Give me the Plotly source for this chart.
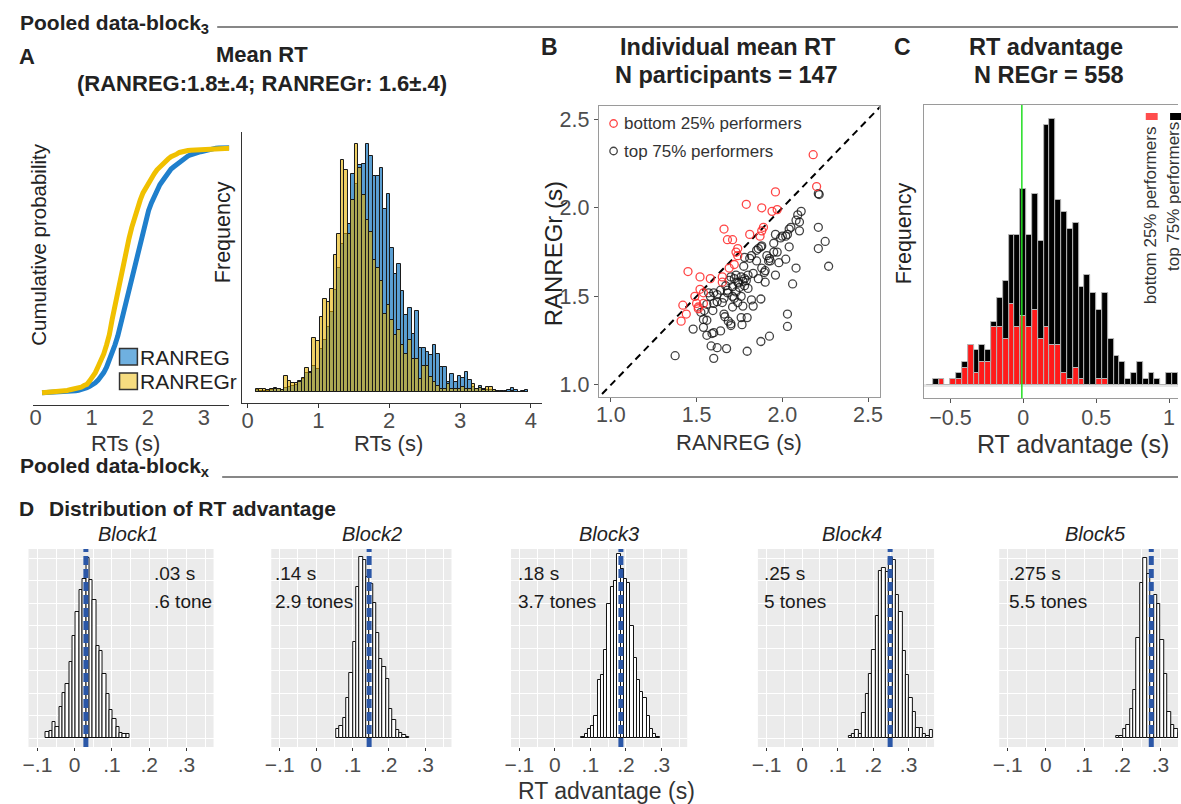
import numpy as np
import plotly.graph_objects as go

W, H = 1181, 804
FONT = "Liberation Sans, Arial, Helvetica, sans-serif"
TICK_GREY = "#4d4d4d"
TXT = "#222222"

# ---------------- data ----------------
# Panel A: pooled RT histograms (bin width 0.05 s)
RT_BIN_LEFT = 0.115
RT_BIN_WIDTH = 0.05
ranreg_counts = [5, 3, 3, 3, 5, 12, 7, 5, 10, 15, 17, 20, 32, 37, 55, 60,
                 78, 68, 128, 153, 193, 238, 303, 368, 440, 470, 500, 650, 620, 678, 680, 740,
                 703, 643, 643, 668, 545, 590, 430, 353, 380, 300, 228, 251, 173, 240,
                 131, 131, 118, 108, 138, 113, 73, 73, 28, 53, 30, 48, 40, 58, 35, 13,
                 8, 16, 8, 6, 6, 5, 3, 3, 2, 4, 11, 5, 0, 3, 4]
ranregr_counts = [7, 9, 7, 5, 8, 9, 7, 5, 47, 33, 25, 25, 30, 40, 70, 55,
                  161, 151, 223, 278, 268, 308, 408, 471, 693, 663, 470, 573, 740, 668, 588, 513,
                  478, 393, 370, 330, 233, 260, 213, 168, 183, 138, 113, 153, 98, 98,
                  38, 78, 78, 43, 28, 18, 8, 8, 23, 8, 8, 8, 13, 8, 8, 23,
                  8, 10, 6, 15, 13, 5, 0, 0, 0, 0, 2, 0, 0, 0, 0]

# Panel B: individual mean RTs (RANREG, RANREGr)
bottom_x = [2.18, 2.20, 1.96, 1.79, 1.88, 1.94, 1.97, 1.66, 1.89, 1.81, 1.87, 1.68, 1.71, 1.74,
            1.74, 1.72, 1.69, 1.45, 1.52, 1.58, 1.65, 1.65, 1.52, 1.54, 1.49, 1.54, 1.42, 1.50,
            1.51, 1.51, 1.44, 1.41, 1.88, 1.73]
bottom_y = [2.30, 2.12, 2.09, 2.02, 2.00, 1.98, 1.99, 1.88, 1.89, 1.85, 1.84, 1.82, 1.82, 1.77,
            1.73, 1.68, 1.66, 1.64, 1.61, 1.60, 1.61, 1.58, 1.54, 1.52, 1.50, 1.46, 1.45, 1.46,
            1.44, 1.43, 1.40, 1.36, 1.87, 1.75]
top_x = [2.21, 2.215, 2.11, 2.09, 2.08, 2.10, 2.05, 2.04, 2.03, 2.02, 2.10, 2.21, 2.25, 2.21,
         2.27, 1.96, 1.95, 1.97, 1.95, 2.04, 2.02, 1.98, 2.08, 1.875, 1.88, 1.85, 1.82, 1.78,
         1.81, 1.91, 1.925, 1.775, 1.85, 1.90, 1.895, 1.90, 1.96, 2.06, 1.73, 1.76, 1.78, 1.79,
         1.77, 1.80, 1.78, 1.745, 1.70, 1.71, 1.73, 1.68, 1.64, 1.60, 1.62, 1.57, 1.71, 1.72,
         1.76, 1.77, 1.82, 1.83, 1.875, 1.74, 1.71, 1.65, 1.60, 1.56, 1.545, 1.525, 1.595, 1.66,
         1.665, 1.685, 1.70, 1.70, 1.76, 1.795, 1.765, 1.56, 1.54, 1.48, 1.54, 1.56, 1.59, 1.60,
         1.64, 1.585, 1.62, 1.675, 1.60, 1.375, 1.795, 1.875, 1.925, 2.03, 2.03, 1.92, 1.99, 2.00,
         1.86, 1.69, 1.67, 1.75, 1.83, 1.88, 1.93, 1.62, 1.58, 1.66, 1.72, 1.74, 1.68, 1.80, 1.86]
top_y = [2.08, 2.075, 1.98, 1.96, 1.93, 1.92, 1.89, 1.88, 1.85, 1.84, 1.87, 1.89, 1.81, 1.77,
         1.67, 1.85, 1.80, 1.75, 1.75, 1.78, 1.71, 1.69, 1.66, 1.78, 1.785, 1.76, 1.73, 1.72,
         1.715, 1.73, 1.715, 1.67, 1.70, 1.645, 1.635, 1.58, 1.62, 1.57, 1.62, 1.61, 1.60, 1.59,
         1.585, 1.545, 1.56, 1.575, 1.61, 1.555, 1.525, 1.535, 1.535, 1.52, 1.51, 1.52, 1.50, 1.49,
         1.50, 1.445, 1.48, 1.445, 1.485, 1.465, 1.44, 1.465, 1.46, 1.455, 1.42, 1.41, 1.42, 1.40,
         1.385, 1.36, 1.345, 1.335, 1.38, 1.38, 1.34, 1.365, 1.37, 1.315, 1.325, 1.28, 1.29, 1.295,
         1.305, 1.22, 1.21, 1.205, 1.15, 1.165, 1.19, 1.245, 1.275, 1.40, 1.33, 1.70, 1.83, 1.84,
         1.77, 1.59, 1.56, 1.55, 1.63, 1.66, 1.70, 1.47, 1.50, 1.49, 1.60, 1.58, 1.52, 1.62, 1.60]

# Panel C: RT advantage histogram (bin width 0.04 s)
adv_bins = [-0.64, -0.60, -0.56, -0.52, -0.48, -0.44, -0.40, -0.36, -0.32, -0.28, -0.24,
            -0.20, -0.16, -0.12, -0.08, -0.04, 0.00, 0.04, 0.08, 0.12, 0.16, 0.20, 0.24,
            0.28, 0.32, 0.36, 0.40, 0.44, 0.48, 0.52, 0.56, 0.60, 0.64, 0.68, 0.72, 0.76,
            0.80, 0.84, 0.88, 0.92, 0.96, 1.00, 1.04]
adv_bottom25 = [0, 0, 1, 0, 1, 1, 3, 7, 2, 4, 4, 10, 10, 8, 14, 10, 12, 10, 13, 8, 10, 7, 7,
                2, 1, 3, 1, 0, 0, 1, 1, 0, 0, 0, 0, 0, 0, 0, 0, 0, 0, 0, 0]
adv_top75 = [0, 1, 0, 0, 0, 1, 1, 0, 4, 3, 2, 1, 5, 10, 12, 16, 22, 16, 20, 17, 35, 39, 25,
             28, 26, 25, 16, 19, 16, 12, 15, 8, 5, 4, 1, 2, 4, 1, 2, 1, 0, 2, 2]
ADV_BIN_WIDTH = 0.04
ZERO_LINE_X = -0.01

# Panel D: bootstrap distributions of RT advantage per block
block_names = ["Block1", "Block2", "Block3", "Block4", "Block5"]
block_bin_start = [-0.0775, 0.056, 0.0745, 0.131, 0.1836]
block_bin_width = [0.009, 0.0091, 0.0092, 0.0095, 0.009]
block_counts = [
    [14, 16, 36, 24, 68, 99, 121, 170, 227, 279, 329, 353, 400, 351, 307, 205, 194, 142, 98, 63,
     42, 24, 11, 9, 10],
    [19, 26, 45, 90, 145, 214, 336, 402, 395, 357, 342, 301, 233, 175, 158, 132, 64, 41, 17, 11,
     6, 2],
    [2, 8, 19, 26, 49, 128, 139, 195, 298, 335, 350, 408, 376, 353, 344, 248, 177, 128, 102, 88,
     49, 19, 8, 2],
    [4, 8, 18, 9, 56, 97, 142, 195, 272, 372, 377, 370, 400, 396, 317, 280, 193, 141, 89, 58, 22,
     22, 9, 4, 18],
    [5, 4, 20, 29, 65, 107, 223, 345, 400, 365, 306, 317, 297, 217, 142, 58, 28, 20, 12, 6, 3],
]
block_means = [0.03, 0.146, 0.186, 0.248, 0.276]
block_text1 = [".03 s", ".14 s", ".18 s", ".25 s", ".275 s"]
block_text2 = [".6 tone", "2.9 tones", "3.7 tones", "5 tones", "5.5 tones"]
d_tickvals = [-0.1, 0, 0.1, 0.2, 0.3]
d_ticktext = ["\u2212.1", "0", ".1", ".2", ".3"]


# ---------------- helpers ----------------
def xd(a, b):
    return [a / W, min(b / W, 1.0)]


def yd(top, bottom):
    return [1 - bottom / H, 1 - top / H]


def px(x):
    return x / W


def py(y):
    return 1 - y / H


annotations = []
shapes = []


def ann(text, x, y, size=20, color=TXT, xanchor="center", yanchor="middle", angle=0):
    annotations.append(dict(text=text, x=px(x), y=py(y), xref="paper", yref="paper",
                            xanchor=xanchor, yanchor=yanchor, showarrow=False, textangle=angle,
                            borderpad=0, borderwidth=0,
                            font=dict(family=FONT, size=size, color=color)))


fig = go.Figure()

# ---------------- Panel A: cumulative ----------------
rt_centers = RT_BIN_LEFT + RT_BIN_WIDTH * (np.arange(len(ranreg_counts)) + 0.5)
rt_edges = np.concatenate([[RT_BIN_LEFT], RT_BIN_LEFT + RT_BIN_WIDTH * (np.arange(len(ranreg_counts)) + 1)])
for counts, col in [(ranreg_counts, "#1f7fcc"), (ranregr_counts, "#f0c000")]:
    c = np.asarray(counts, float)
    cdf = np.concatenate([[0], np.cumsum(c)]) / c.sum()
    fig.add_trace(go.Scatter(x=rt_edges, y=cdf, mode="lines", line=dict(color=col, width=5),
                             xaxis="x", yaxis="y", hoverinfo="skip"))

# ---------------- Panel A: histogram ----------------
fig.add_trace(go.Bar(x=rt_centers, y=ranreg_counts, width=RT_BIN_WIDTH,
                     marker=dict(color="rgb(91,159,211)", line=dict(color="#1a1a1a", width=1)),
                     xaxis="x2", yaxis="y2"))
fig.add_trace(go.Bar(x=rt_centers, y=ranregr_counts, width=RT_BIN_WIDTH,
                     marker=dict(color="rgba(230,178,0,0.6)", line=dict(color="#1a1a1a", width=1)),
                     xaxis="x2", yaxis="y2"))

# ---------------- Panel B: scatter ----------------
B_XR = [0.929, 2.567]
B_YR = [0.93, 2.575]
fig.add_trace(go.Scatter(x=[0.9, 2.6], y=[0.9, 2.6], mode="lines",
                         line=dict(color="black", width=2, dash="7px,5px"),
                         xaxis="x3", yaxis="y3", hoverinfo="skip"))
fig.add_trace(go.Scatter(x=top_x, y=top_y, mode="markers",
                         marker=dict(symbol="circle-open", size=8, color="rgba(20,20,20,0.8)",
                                     line=dict(width=1.3)),
                         xaxis="x3", yaxis="y3"))
fig.add_trace(go.Scatter(x=bottom_x, y=bottom_y, mode="markers",
                         marker=dict(symbol="circle-open", size=8, color="rgba(255,50,50,0.9)",
                                     line=dict(width=1.3)),
                         xaxis="x3", yaxis="y3"))

# ---------------- Panel C: stacked histogram ----------------
fig.add_trace(go.Bar(x=adv_bins, y=adv_bottom25, width=ADV_BIN_WIDTH,
                     marker=dict(color="#ff1a1a", line=dict(color="#b5b5b5", width=1)),
                     xaxis="x4", yaxis="y4"))
fig.add_trace(go.Bar(x=adv_bins, y=adv_top75, base=adv_bottom25, width=ADV_BIN_WIDTH,
                     marker=dict(color="#000000", line=dict(color="#b5b5b5", width=1)),
                     xaxis="x4", yaxis="y4"))
shapes.append(dict(type="line", xref="x4", yref="y4 domain", x0=ZERO_LINE_X, x1=ZERO_LINE_X,
                   y0=0, y1=1, line=dict(color="#22dd22", width=1.5)))

# ---------------- Panel D ----------------
d_domains_x = [(21.7, 208.3), (266.5, 448.3), (508.3, 686), (757.3, 935), (1000.7, 1181)]
d_ranges = [[-0.124, 0.3727], [-0.1232, 0.3725], [-0.1234, 0.3726], [-0.1243, 0.3717],
            [-0.1223, 0.346]]
d_dom_y = yd(549, 747)
for i in range(5):
    ax = i + 5
    counts = block_counts[i]
    xs = [block_bin_start[i] + block_bin_width[i] * (j + 0.5) for j in range(len(counts))]
    fig.add_trace(go.Bar(x=xs, y=counts, width=block_bin_width[i],
                         marker=dict(color="white", line=dict(color="#111111", width=1)),
                         xaxis=f"x{ax}", yaxis=f"y{ax}"))
    shapes.append(dict(type="rect", xref=f"x{ax} domain", yref=f"y{ax} domain", x0=0, x1=1,
                       y0=0, y1=1, fillcolor="#ebebeb", line=dict(width=0), layer="below"))
    shapes.append(dict(type="line", xref=f"x{ax}", yref=f"y{ax} domain", x0=block_means[i],
                       x1=block_means[i], y0=0, y1=1,
                       line=dict(color="#2b57a7", width=5, dash="9px,4px")))

# ---------------- layout axes ----------------
layout = dict(
    width=W, height=H, margin=dict(l=0, r=0, t=0, b=0), autosize=False,
    paper_bgcolor="white", plot_bgcolor="white", showlegend=False,
    barmode="overlay", bargap=0,
    font=dict(family=FONT, color=TXT),
)
tick_font22 = dict(family=FONT, size=22, color=TICK_GREY)
tick_font_b = dict(family=FONT, size=21.5, color=TICK_GREY)

layout["xaxis"] = dict(domain=xd(26, 224), range=[-0.05, 3.45], anchor="y", showline=True,
                       linecolor="#333", linewidth=1, ticks="", tickvals=[0, 1, 2, 3],
                       tickfont=tick_font22, showgrid=False, zeroline=False,
                       ticklabelstandoff=-7)
layout["yaxis"] = dict(domain=yd(134.4, 405), range=[-0.05, 1.05], anchor="x", visible=False)

layout["xaxis2"] = dict(domain=xd(237, 540), range=[-0.08, 4.164], anchor="y2", showline=True,
                        linecolor="#333", linewidth=1.2, ticks="outside", ticklen=4,
                        tickcolor="#333", tickvals=[0, 1, 2, 3, 4], tickfont=tick_font22,
                        showgrid=False, zeroline=False, ticklabelstandoff=-7)
layout["yaxis2"] = dict(domain=yd(132, 403.3), range=[-35, 776], anchor="x2", showline=True,
                        linecolor="#333", linewidth=1.2, ticks="", showticklabels=False,
                        showgrid=False, zeroline=False)

layout["xaxis3"] = dict(domain=xd(596.7, 880), range=B_XR, anchor="y3", showline=True,
                        mirror=True, linecolor="#9a9a9a", linewidth=1, ticks="outside",
                        ticklen=4, tickcolor="#555", tickvals=[1, 1.5, 2, 2.5],
                        ticktext=["1.0", "1.5", "2.0", "2.5"], tickfont=tick_font_b,
                        showgrid=False, zeroline=False, ticklabelstandoff=-6)
layout["yaxis3"] = dict(domain=yd(106, 397.3), range=B_YR, anchor="x3", showline=True,
                        mirror=True, linecolor="#9a9a9a", linewidth=1, ticks="outside",
                        ticklen=4, tickcolor="#555", tickvals=[1, 1.5, 2, 2.5],
                        ticktext=["1.0", "1.5", "2.0", "2.5"], tickfont=tick_font_b,
                        showgrid=False, zeroline=False)

layout["xaxis4"] = dict(domain=xd(925, 1181), range=[-0.680, 1.061], anchor="y4", showline=True,
                        mirror=True, linecolor="#9a9a9a", linewidth=1, ticks="outside",
                        ticklen=4, tickcolor="#555", tickvals=[-0.5, 0, 0.5, 1],
                        ticktext=["\u22120.5", "0", "0.5", "1"], tickfont=tick_font_b,
                        showgrid=False, zeroline=False, ticklabelstandoff=-4)
layout["yaxis4"] = dict(domain=yd(105, 398.3), range=[-2.3, 48.5], anchor="x4", showline=True,
                        linecolor="#9a9a9a", linewidth=1, ticks="", showticklabels=False,
                        showgrid=False, zeroline=True, zerolinecolor="#e6e6e6",
                        zerolinewidth=3)

for i in range(5):
    ax = i + 5
    a, b = d_domains_x[i]
    layout[f"xaxis{ax}"] = dict(domain=xd(a, b), range=d_ranges[i], anchor=f"y{ax}",
                                showline=False, ticks="outside", ticklen=3, tickcolor="#333",
                                tickvals=d_tickvals, ticktext=d_ticktext,
                                tickfont=dict(family=FONT, size=21, color=TICK_GREY),
                                showgrid=True, gridcolor="white", gridwidth=1.2, zeroline=False,
                                ticklabelstandoff=-4,
                                minor=dict(tickvals=[-0.05, 0.05, 0.15, 0.25, 0.35],
                                           showgrid=True, gridcolor="white", gridwidth=0.6))
    layout[f"yaxis{ax}"] = dict(domain=d_dom_y, range=[-20, 420], anchor=f"x{ax}",
                                showline=False, ticks="", showticklabels=False,
                                tickvals=[0, 100, 200, 300, 400],
                                showgrid=True, gridcolor="white", gridwidth=1.2, zeroline=False,
                                minor=dict(tickvals=[50, 150, 250, 350], showgrid=True,
                                           gridcolor="white", gridwidth=0.6))

# ---------------- texts ----------------
ann("<b>Pooled data-block<sub>3</sub></b>", 13, 24, size=21, xanchor="left")
shapes.append(dict(type="line", xref="paper", yref="paper", x0=px(212), x1=1, y0=py(27),
                   y1=py(27), line=dict(color="#111", width=1.2)))
ann("<b>A</b>", 20.5, 56, size=22)
ann("<b>Mean RT</b>", 257, 55, size=22)
ann("<b>(RANREG:1.8\u00b1.4; RANREGr: 1.6\u00b1.4)</b>", 257, 83, size=22)
ann("<b>B</b>", 547, 47, size=23)
ann("<b>Individual mean RT</b>", 727, 47, size=23.5)
ann("<b>N participants = 147</b>", 726, 75, size=23.5)
ann("<b>C</b>", 903, 47, size=23)
ann("<b>RT advantage</b>", 1048, 47, size=23.5)
ann("<b>N REGr = 558</b>", 1051, 75, size=23.5)

ann("Cumulative probability", 32, 245, size=20.5, angle=-90, color="#222")
ann("RTs (s)", 120, 443, size=22, color="#333")
ann("Frequency", 218, 232, size=21.5, angle=-90, color="#222")
ann("RTs (s)", 385, 443, size=22, color="#333")
ann("RANREGr (s)", 551, 254, size=24, angle=-90, color="#222")
ann("RANREG (s)", 738, 442, size=22, color="#333")
ann("Frequency", 905, 233, size=21.5, angle=-90, color="#222")
ann("RT advantage (s)", 1075, 444, size=25, color="#333")

# legend panel A
shapes.append(dict(type="rect", xref="paper", yref="paper", x0=px(113.5), x1=px(131.5),
                   y0=py(365), y1=py(348.5), fillcolor="#6fb0e0", line=dict(color="#333", width=1.5)))
shapes.append(dict(type="rect", xref="paper", yref="paper", x0=px(113.5), x1=px(131.5),
                   y0=py(389.5), y1=py(373), fillcolor="#f6dc80", line=dict(color="#333", width=1.5)))
ann("RANREG", 134, 357, size=21, xanchor="left", color="#222")
ann("RANREGr", 134, 381, size=21, xanchor="left", color="#222")

# legend panel B
for yy, col, lab in [(123.5, "rgba(255,50,50,0.9)", "bottom 25% performers"),
                     (151, "rgba(20,20,20,0.8)", "top 75% performers")]:
    shapes.append(dict(type="circle", xref="paper", yref="paper", x0=px(608), x1=px(615.5),
                       y0=py(yy + 3.75), y1=py(yy - 3.75), line=dict(color=col, width=1.3)))
    ann(lab, 622, yy, size=17, xanchor="left", color="#333")

# legend panel C
shapes.append(dict(type="rect", xref="paper", yref="paper", x0=px(1148.5), x1=px(1160.5),
                   y0=py(120), y1=py(113), fillcolor="#ff4d4d", line=dict(width=0)))
shapes.append(dict(type="rect", xref="paper", yref="paper", x0=px(1173), x1=px(1185),
                   y0=py(120), y1=py(113), fillcolor="#000", line=dict(width=0)))
ann("bottom 25% performers", 1154, 215, size=17, angle=-90, color="#333")
ann("top 75% performers", 1176, 197, size=17, angle=-90, color="#333")

# Panel D headers
ann("<b>Pooled data-block<sub>x</sub></b>", 13, 467, size=21, xanchor="left")
shapes.append(dict(type="line", xref="paper", yref="paper", x0=px(217), x1=1, y0=py(477),
                   y1=py(477), line=dict(color="#111", width=1.2)))
ann("<b>D</b>", 20, 508, size=21)
ann("<b>Distribution of RT advantage</b>", 42, 508, size=21, xanchor="left")
block_title_x = [122, 368, 607, 852, 1098]
block_text_x = [148, 270, 515.7, 763.3, 1011]
for i in range(5):
    ann(f"<i>{block_names[i]}</i>", block_title_x[i], 534, size=20, color="#222")
    ann(block_text1[i], block_text_x[i], 573, size=19, xanchor="left", color="#1a1a1a")
    ann(block_text2[i], block_text_x[i], 601, size=19, xanchor="left", color="#1a1a1a")
ann("RT advantage (s)", 605, 791, size=23, color="#333")

layout["annotations"] = annotations
layout["shapes"] = shapes
fig.update_layout(**layout)
fig.write_html("out.html")
